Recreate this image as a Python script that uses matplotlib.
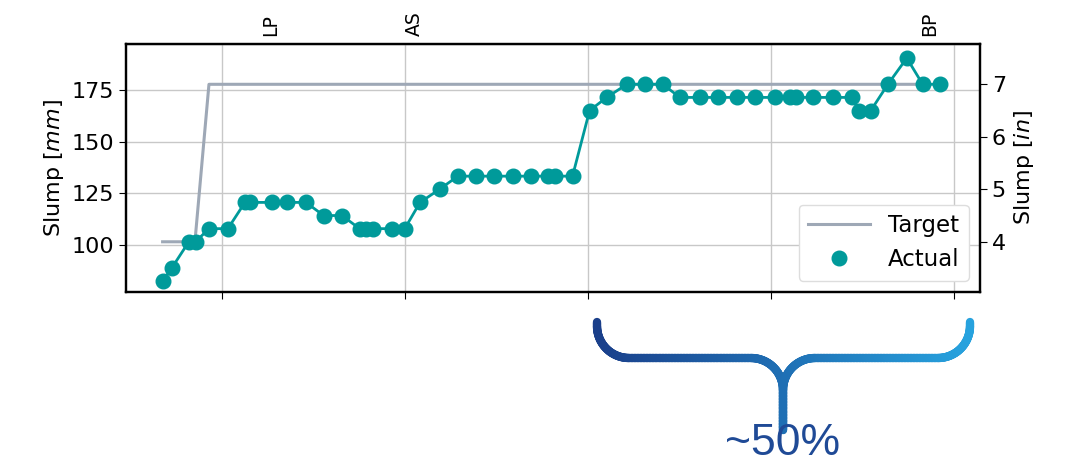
import matplotlib
matplotlib.use('Agg')
import matplotlib.pyplot as plt
import numpy as np
from matplotlib.collections import LineCollection
from matplotlib.colors import LinearSegmentedColormap

# elapsed time [min] and measured slump [in]
t_actual = [-9.7, -8.2, -5.4, -4.3, -2.1, 1.0, 3.8, 4.6, 8.2, 10.7, 13.8, 16.7, 19.7,
            22.6, 23.6, 24.8, 27.9, 30.0, 32.5, 35.7, 38.7, 41.6, 44.6, 47.7, 50.7,
            53.4, 54.6, 57.5, 60.3, 63.1, 66.4, 69.3, 72.3, 75.1, 78.4, 81.3, 84.4,
            87.4, 90.7, 93.1, 94.1, 96.9, 100.2, 103.3, 104.4, 106.4, 109.2, 112.3,
            114.9, 117.7]
slump_in = [3.25, 3.5, 4.0, 4.0, 4.25, 4.25, 4.75, 4.75, 4.75, 4.75, 4.75, 4.5, 4.5,
            4.25, 4.25, 4.25, 4.25, 4.25, 4.75, 5.0, 5.25, 5.25, 5.25, 5.25, 5.25,
            5.25, 5.25, 5.25, 6.5, 6.75, 7.0, 7.0, 7.0, 6.75, 6.75, 6.75, 6.75,
            6.75, 6.75, 6.75, 6.75, 6.75, 6.75, 6.75, 6.5, 6.5, 7.0, 7.5,
            7.0, 7.0]
t_target = [-9.7, -4.4, -2.1, 114.4]
target_in = [4.0, 4.0, 7.0, 7.0]
events = ['LP', 'AS', 'BP']
t_events = [8.0, 31.6, 116.1]
brace_label = '~50%'

slump_mm = [v * 25.4 for v in slump_in]
target_mm = [v * 25.4 for v in target_in]

W, H = 1071, 465
fig = plt.figure(figsize=(W / 100, H / 100), dpi=100)
plt.rcParams['font.size'] = 16

ax = fig.add_axes([126 / W, 1 - 292 / H, (980 - 126) / W, (292 - 44) / H])
teal = '#009a9a'
ax.plot(t_target, target_mm, color='#9ea8b6', lw=2.2, label='Target', zorder=2)
ax.plot(t_actual, slump_mm, color=teal, lw=2, zorder=3)
ax.plot(t_actual, slump_mm, 'o', color=teal, ms=10.5, ls='none', label='Actual', zorder=4)

ax.set_xlim(-15.7, 124.3)
ax.set_ylim(77.3, 197.3)
ax.set_xticks([0, 30, 60, 90, 120])
ax.set_xticklabels([])
ax.set_yticks([100, 125, 150, 175])
ax.set_ylabel('Slump [$mm$]', fontsize=16)
ax.grid(True, color='#c8c8c8', lw=1)
ax.tick_params(labelsize=16, length=5)
for s in ax.spines.values():
    s.set_linewidth(1.6)

leg = ax.legend(loc='lower right', fontsize=16.5, handlelength=2.7, framealpha=1)
leg.get_frame().set_edgecolor('#dddddd')

ax2 = ax.twinx()
lo, hi = ax.get_ylim()
ax2.set_ylim(lo / 25.4, hi / 25.4)
ax2.set_yticks([4, 5, 6, 7])
ax2.set_ylabel('Slump [$in$]', fontsize=16)
ax2.tick_params(labelsize=16, length=5)
for s in ax2.spines.values():
    s.set_linewidth(1.6)

top = ax.secondary_xaxis('top')
top.set_xticks(t_events)
top.set_xticklabels(events, rotation=90, fontsize=13.5)
top.tick_params(length=0, pad=6)

# curly brace under the right half
ov = fig.add_axes([0, 0, 1, 1], facecolor='none')
ov.set_xlim(0, W)
ov.set_ylim(H, 0)
ov.axis('off')

def arc(cx, cy, r, a0, a1, n=30):
    a = np.radians(np.linspace(a0, a1, n))
    return np.c_[cx + r * np.cos(a), cy + r * np.sin(a)]

r = 32
pts = np.vstack([
    [[597, 322]],
    arc(597 + r, 326, r, 180, 90),
    arc(783 - r, 358 + r, r, -90, 0),
    [[783, 430]],
    [[783, 358 + r]],
    arc(783 + r, 358 + r, r, 180, 270),
    arc(970 - r, 326, r, 90, 0),
    [[970, 322]],
])
# densify so the gradient is smooth
dense = [pts[0]]
for p0, p1 in zip(pts[:-1], pts[1:]):
    n = max(2, int(np.hypot(*(p1 - p0)) / 3))
    for k in range(1, n + 1):
        dense.append(p0 + (p1 - p0) * k / n)
dense = np.array(dense)
segs = np.stack([dense[:-1], dense[1:]], axis=1)
cmap = LinearSegmentedColormap.from_list('br', ['#1a3f8a', '#1f6fb4', '#27a2de'])
cvals = (segs[:, :, 0].mean(axis=1) - 597) / (970 - 597)
lc = LineCollection(segs, colors=cmap(cvals), linewidths=6, capstyle='round', joinstyle='round')
ov.add_collection(lc)
ov.text(783, 464, brace_label, ha='center', va='bottom', fontsize=32,
        color='#1f4a96', family='Liberation Sans')

fig.savefig('out.png', dpi=100)
